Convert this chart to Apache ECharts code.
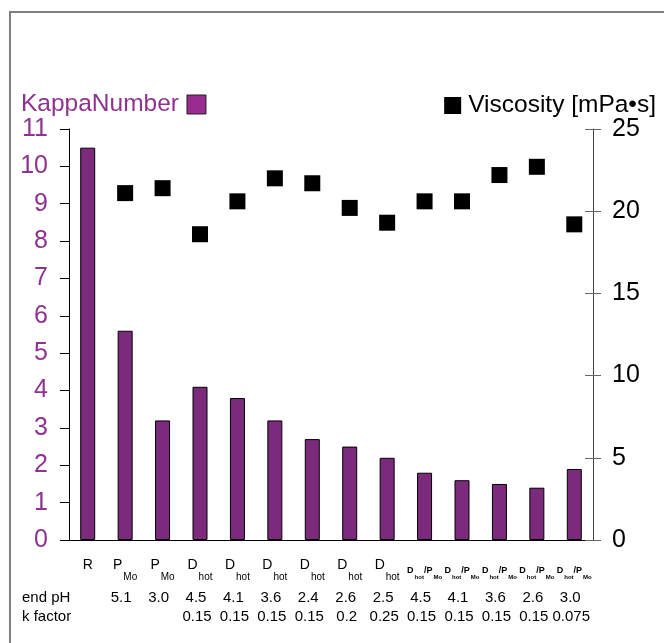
<!DOCTYPE html>
<html>
<head>
<meta charset="utf-8">
<script src="https://cdn.jsdelivr.net/npm/echarts@6/dist/echarts.min.js"></script>
<style>
html,body{margin:0;padding:0;background:#fff;}
#chart{width:664px;height:643px;}
</style>
</head>
<body>
<div id="chart"></div>
<script>
// ---- data ----
var catMain = ['R','P','P','D','D','D','D','D','D','D','D','D','D','D'];
var catSub  = ['', 'Mo','Mo','hot','hot','hot','hot','hot','hot','hotMo','hotMo','hotMo','hotMo','hotMo'];
var endPH   = ['', '5.1','3.0','4.5','4.1','3.6','2.4','2.6','2.5','4.5','4.1','3.6','2.6','3.0'];
var kFactor = ['', '', '', '0.15','0.15','0.15','0.15','0.2','0.25','0.15','0.15','0.15','0.15','0.075'];
var kappaNumber = [10.5, 5.6, 3.2, 4.1, 3.8, 3.2, 2.7, 2.5, 2.2, 1.8, 1.6, 1.5, 1.4, 1.9];
var viscosity   = [null, 21.1, 21.4, 18.6, 20.6, 22.0, 21.7, 20.2, 19.3, 20.6, 20.6, 22.2, 22.7, 19.2];
var leftTicks  = {min:0, max:11, interval:1};
var rightTicks = {min:0, max:25, interval:5};

var FONT = 'Liberation Sans, Arial, sans-serif';
var PURPLE_TXT = '#8e3390';
var BAR = '#7b2a7c';

var cats = catMain.map(function(m,i){ return String(i); });

function mainFmt(v){
  var i = Number(v);
  if (catSub[i] === 'hotMo') return '{dm|D}{ds|hot}{dm|/P}{ds|Mo}';
  if (catSub[i]) return '{m|' + catMain[i] + '}{s|' + catSub[i] + '}';
  return '{m|' + catMain[i] + '}';
}
function phFmt(v){ return endPH[Number(v)]; }
function kFmt(v){ return kFactor[Number(v)]; }

function rowAxis(fmt, margin, pad){
  return {
    type: 'category', data: cats, position: 'bottom',
    axisLine: {show: false}, axisTick: {show: false}, splitLine: {show: false},
    axisLabel: {interval: 0, margin: margin, formatter: fmt, fontSize: 15, color: '#000',
                fontFamily: FONT, padding: pad}
  };
}

var chart = echarts.init(document.getElementById('chart'));
chart.setOption({
  animation: false,
  backgroundColor: '#fff',
  textStyle: {fontFamily: FONT},
  grid: {left: 69, right: 71, top: 129, bottom: 103},
  legend: [
    {
      data: [{name: 'KappaNumber', itemStyle: {color: '#9a2b90', borderColor: '#222', borderWidth: 1, opacity: 1}}],
      left: 16, top: 87, align: 'right', icon: 'rect',
      itemWidth: 19, itemHeight: 19,
      textStyle: {fontSize: 24.5, color: PURPLE_TXT, fontFamily: FONT, padding: [0, 3, 0, 0]}
    },
    {
      data: [{name: 'Viscosity [mPa•s]', icon: 'rect', itemStyle: {color: '#000', opacity: 1}}],
      right: 3, top: 88, align: 'left',
      itemWidth: 17, itemHeight: 17,
      textStyle: {fontSize: 24.5, color: '#000', fontFamily: FONT, padding: [0, 0, 0, 2]}
    }
  ],
  xAxis: [
    {
      type: 'category', data: cats, position: 'bottom',
      axisLine: {show: true, lineStyle: {color: '#000', width: 1}},
      axisTick: {show: false},
      axisLabel: {
        interval: 0, margin: 18, formatter: mainFmt, color: '#000', fontFamily: FONT,
        rich: {
          m: {fontSize: 14, lineHeight: 14, verticalAlign: 'top', color: '#000', fontFamily: FONT},
          s: {fontSize: 10, lineHeight: 10, padding: [14, 0, 0, 1], verticalAlign: 'top', color: '#000', fontFamily: FONT},
          dm: {fontSize: 9, lineHeight: 9, verticalAlign: 'top', color: '#000', fontWeight: 'bold', fontFamily: FONT, padding: [8, 0, 0, 0]},
          ds: {fontSize: 6, lineHeight: 6, padding: [16, 0, 0, 1], verticalAlign: 'top', color: '#000', fontWeight: 'bold', fontFamily: FONT}
        }
      },
      splitLine: {show: false}
    },
    {
      type: 'category', data: cats, position: 'top',
      axisLine: {show: true, lineStyle: {color: '#000', width: 1}},
      axisTick: {show: false}, axisLabel: {show: false}, splitLine: {show: false}
    },
    rowAxis(phFmt, 50, [0, 8, 0, 0]),
    rowAxis(kFmt, 69, [0, 6, 0, 0])
  ],
  yAxis: [
    {
      type: 'value', position: 'left', min: leftTicks.min, max: leftTicks.max, interval: leftTicks.interval,
      axisLine: {show: true, lineStyle: {color: '#000', width: 1}},
      axisTick: {show: true, inside: false, length: 9, lineStyle: {color: '#000'}},
      axisLabel: {fontSize: 25, color: PURPLE_TXT, margin: 21, fontFamily: FONT},
      splitLine: {show: false}
    },
    {
      type: 'value', position: 'right', min: rightTicks.min, max: rightTicks.max, interval: rightTicks.interval,
      axisLine: {show: true, lineStyle: {color: '#444', width: 1}},
      axisTick: {show: true, inside: false, length: 8, lineStyle: {color: '#666'}},
      axisLabel: {fontSize: 25, color: '#000', margin: 19, fontFamily: FONT},
      splitLine: {show: false}
    },
    {
      type: 'value', position: 'right', min: rightTicks.min, max: rightTicks.max, interval: rightTicks.interval,
      axisLine: {show: false},
      axisTick: {show: true, inside: true, length: 8, lineStyle: {color: '#666'}},
      axisLabel: {show: false}, splitLine: {show: false}
    }
  ],
  graphic: [
    {type: 'polyline', shape: {points: [[10, 643], [10, 12], [664, 12]]}, style: {stroke: '#808080', lineWidth: 2, fill: null}, silent: true},
    {type: 'text', left: 22, top: 590, style: {text: 'end pH', fontSize: 15, fill: '#000', fontFamily: FONT}},
    {type: 'text', left: 22, top: 609, style: {text: 'k factor', fontSize: 15, fill: '#000', fontFamily: FONT}}
  ],
  series: [
    {
      name: 'KappaNumber', type: 'bar', xAxisIndex: 0, yAxisIndex: 0, data: kappaNumber,
      barWidth: 15,
      itemStyle: {color: BAR, borderColor: '#000', borderWidth: 1}
    },
    {
      name: 'Viscosity [mPa•s]', type: 'scatter', xAxisIndex: 0, yAxisIndex: 1, data: viscosity,
      symbol: 'rect', symbolSize: 16,
      itemStyle: {color: '#000', opacity: 1}
    }
  ]
});
</script>
</body>
</html>
